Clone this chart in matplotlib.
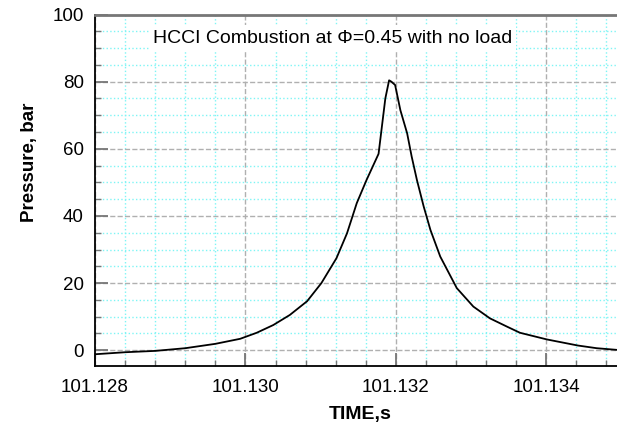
import matplotlib
matplotlib.use("Agg")
import matplotlib.pyplot as plt
from matplotlib.ticker import MultipleLocator, FormatStrFormatter

plt.rcParams['font.family'] = ['Liberation Sans', 'DejaVu Sans']

# valores
tiempo = [101.12800, 101.12840, 101.12880, 101.12920, 101.12960, 101.12993,
          101.13015, 101.13037, 101.13059, 101.13082, 101.13101, 101.13121,
          101.13135, 101.13148, 101.13161, 101.13177, 101.13186, 101.13191,
          101.13194, 101.13199, 101.13206, 101.13215, 101.13221, 101.13228,
          101.13237, 101.13246, 101.13259, 101.13281, 101.13303, 101.13325,
          101.13348, 101.13365, 101.13401, 101.13442, 101.13467, 101.13494]
presion = [-1.2, -0.6, -0.2, 0.6, 1.9, 3.4,
           5.2, 7.5, 10.5, 14.6, 20.0, 27.4,
           34.8, 43.8, 50.7, 58.5, 75.0, 80.4,
           80.0, 79.0, 71.5, 64.6, 57.7, 50.7,
           42.8, 35.8, 27.9, 18.5, 13.0, 9.5,
           7.0, 5.2, 3.2, 1.4, 0.6, 0.1]

fig = plt.figure(figsize=(6.17, 4.25), dpi=100)
ax = fig.add_axes([95/617, 1 - 366/425, 1 - 95/617, (366 - 14.5)/425])

ax.plot(tiempo, presion, color='black', lw=1.3, solid_joinstyle='round', zorder=3)

ax.set_xlim(101.128, 101.13494)
ax.set_ylim(-4.7, 100)

ax.xaxis.set_major_locator(MultipleLocator(0.002))
ax.xaxis.set_minor_locator(MultipleLocator(0.0004))
ax.xaxis.set_major_formatter(FormatStrFormatter('%.3f'))
ax.yaxis.set_major_locator(MultipleLocator(20))
ax.yaxis.set_minor_locator(MultipleLocator(5))

ax.grid(which='minor', color='#7ff5f5', ls=':', lw=1.0, zorder=0)
ax.grid(which='major', color='#b0b0b0', ls='--', lw=1.0, zorder=1)

ax.tick_params(which='major', direction='in', length=9.5, width=1.3,
               color='#777777', labelsize=13.5, pad=8)
ax.tick_params(which='minor', direction='in', length=4.5, width=1.0,
               color='#777777')
ax.tick_params(axis='x', pad=9)

ax.spines['right'].set_visible(False)
ax.spines['top'].set_color('#777777')
ax.spines['top'].set_linewidth(2)
ax.spines['left'].set_linewidth(1.3)
ax.spines['bottom'].set_linewidth(1.3)

ax.set_xlabel('TIME,s', fontsize=14, fontweight='bold')
ax.set_ylabel('Pressure, bar', fontsize=13.5, fontweight='bold')
ax.xaxis.set_label_coords(0.508, -0.115)
ax.yaxis.set_label_coords(-0.109, 0.579)

ax.text(0.111, 0.933, 'HCCI Combustion at \u03a6=0.45 with no load',
        transform=ax.transAxes, fontsize=14, va='center', ha='left',
        bbox=dict(facecolor='white', edgecolor='none', pad=3), zorder=2)

fig.savefig('out.png', dpi=100)
